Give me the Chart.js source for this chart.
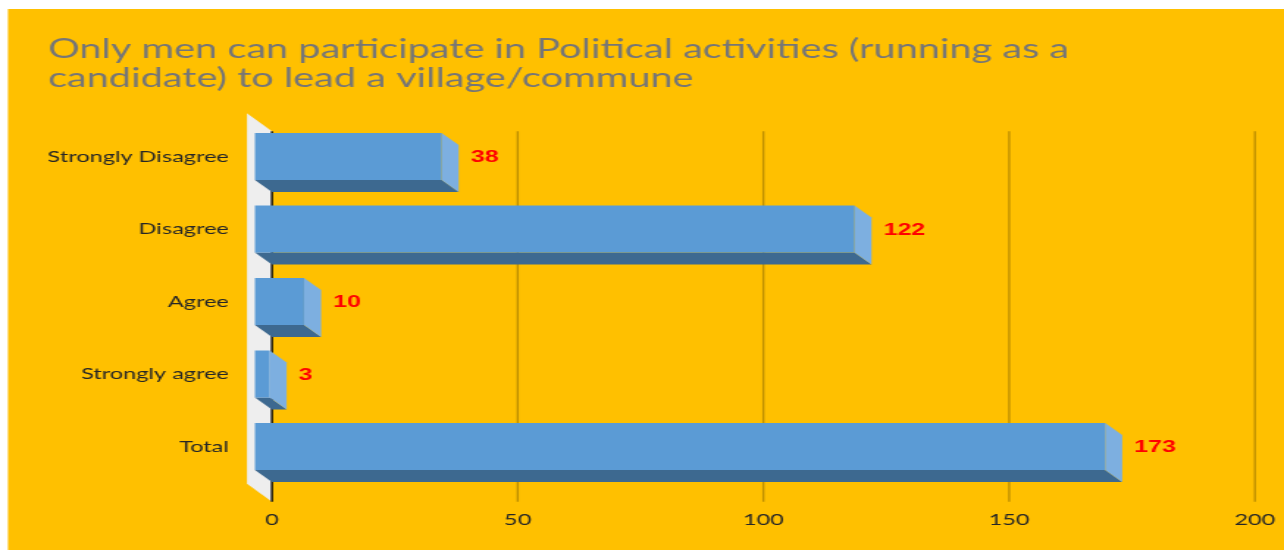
<!DOCTYPE html>
<html>
<head>
<meta charset="utf-8">
<script src="https://cdn.jsdelivr.net/npm/chart.js@4/dist/chart.umd.min.js"></script>
<style>
  html, body { margin: 0; padding: 0; background: #fff; overflow: hidden; }
  #wrap { width: 1284px; height: 550px; overflow: hidden; }
  /* the source picture is stretched sideways, so draw narrow and stretch */
  #chart { display: block; transform: scaleX(1.4691); transform-origin: 0 0; }
</style>
</head>
<body>
<div id="wrap"><canvas id="chart" width="874" height="550"></canvas></div>
<script>
const categories = ["Strongly Disagree", "Disagree", "Agree", "Strongly agree", "Total"];
const counts = [38, 122, 10, 3, 173];
const titleLines = [
  "Only men can participate in Political activities (running as a",
  "candidate) to lead a village/commune",
];

// 3d look: front face sits left/up of the back plane (canvas units)
const DX = 11.6, DY = 12;
const WALL_DX = 17, WALL_DY = 18;

const backdrop = {
  id: "backdrop",
  beforeDraw(chart) {
    const { ctx, width, height, chartArea, scales } = chart;
    ctx.save();
    ctx.fillStyle = "#ffffff";
    ctx.fillRect(0, 0, width, height);
    ctx.fillStyle = "#FFC000";
    ctx.fillRect(5.4, 9, width - 5.4, height - 9);

    // side wall
    const x0 = scales.x.getPixelForValue(0);
    const wt = chartArea.top + 11, wb = chartArea.bottom + 19;
    ctx.fillStyle = "#EEEEEE";
    ctx.beginPath();
    ctx.moveTo(x0 - WALL_DX, wt - WALL_DY);
    ctx.lineTo(x0, wt);
    ctx.lineTo(x0, wb);
    ctx.lineTo(x0 - WALL_DX, wb - WALL_DY);
    ctx.closePath();
    ctx.fill();

    // grid lines on the back plane
    ctx.strokeStyle = "#BF9000";
    ctx.lineWidth = 1.4;
    scales.x.ticks.forEach((t) => {
      if (t.value === 0) return;
      const x = scales.x.getPixelForValue(t.value);
      ctx.beginPath();
      ctx.moveTo(x, wt);
      ctx.lineTo(x, wb);
      ctx.stroke();
    });
    ctx.strokeStyle = "#000000";
    ctx.beginPath();
    ctx.moveTo(x0, wt);
    ctx.lineTo(x0, wb);
    ctx.stroke();
    ctx.restore();
  },
};

const bars3d = {
  id: "bars3d",
  afterDatasetsDraw(chart) {
    const { ctx, scales } = chart;
    const meta = chart.getDatasetMeta(0);
    const x0 = scales.x.getPixelForValue(0) - DX;
    ctx.save();
    meta.data.forEach((bar, i) => {
      const x1 = scales.x.getPixelForValue(counts[i]) - DX;
      const yt = bar.y - bar.height / 2;
      const yb = bar.y + bar.height / 2;
      // bottom face
      ctx.fillStyle = "#3D6990";
      ctx.beginPath();
      ctx.moveTo(x0, yb);
      ctx.lineTo(x1, yb);
      ctx.lineTo(x1 + DX, yb + DY);
      ctx.lineTo(x0 + DX, yb + DY);
      ctx.closePath();
      ctx.fill();
      // side face
      ctx.fillStyle = "#7DAFE0";
      ctx.beginPath();
      ctx.moveTo(x1, yt);
      ctx.lineTo(x1 + DX, yt + DY);
      ctx.lineTo(x1 + DX, yb + DY);
      ctx.lineTo(x1, yb);
      ctx.closePath();
      ctx.fill();
      // front face
      ctx.fillStyle = "#5B9BD5";
      ctx.fillRect(x0, yt, x1 - x0, yb - yt);

      // value label
      ctx.fillStyle = "#FF0000";
      ctx.font = "bold 17px 'Liberation Sans', Arial, sans-serif";
      ctx.textAlign = "left";
      ctx.textBaseline = "middle";
      ctx.fillText(String(counts[i]), x1 + DX + 8.2, bar.y + 1);
    });
    ctx.restore();
  },
};

new Chart(document.getElementById("chart"), {
  type: "bar",
  data: {
    labels: categories,
    datasets: [
      {
        data: counts,
        backgroundColor: "rgba(0,0,0,0)",
        borderWidth: 0,
        barThickness: 47,
      },
    ],
  },
  options: {
    indexAxis: "y",
    responsive: false,
    animation: false,
    devicePixelRatio: 1,
    layout: { padding: { left: 32.7, right: 19.8, top: 0, bottom: 0 } },
    plugins: {
      legend: { display: false },
      tooltip: { enabled: false },
      title: {
        display: true,
        text: titleLines,
        align: "start",
        color: "#767676",
        font: { family: "Lato", size: 27, weight: "normal", lineHeight: "29px" },
        padding: { top: 35, bottom: 27.25 },
      },
    },
    scales: {
      x: {
        min: 0,
        max: 200,
        ticks: {
          stepSize: 50,
          color: "#262626",
          font: { family: "Lato", size: 16 },
          padding: 27,
        },
        grid: { display: false, drawTicks: false },
        border: { display: false },
        afterFit: (s) => {
          s.height = 67.25;
          s.paddingLeft = 0;
          s.paddingRight = 0;
        },
      },
      y: {
        ticks: {
          color: "#262626",
          font: { family: "Lato", size: 16 },
          padding: 29.3,
        },
        grid: { display: false, drawTicks: false },
        border: { display: false },
        afterFit: (s) => {
          s.width = 152.4;
          s.paddingTop = 0;
          s.paddingBottom = 0;
        },
      },
    },
  },
  plugins: [backdrop, bars3d],
});
</script>
</body>
</html>
